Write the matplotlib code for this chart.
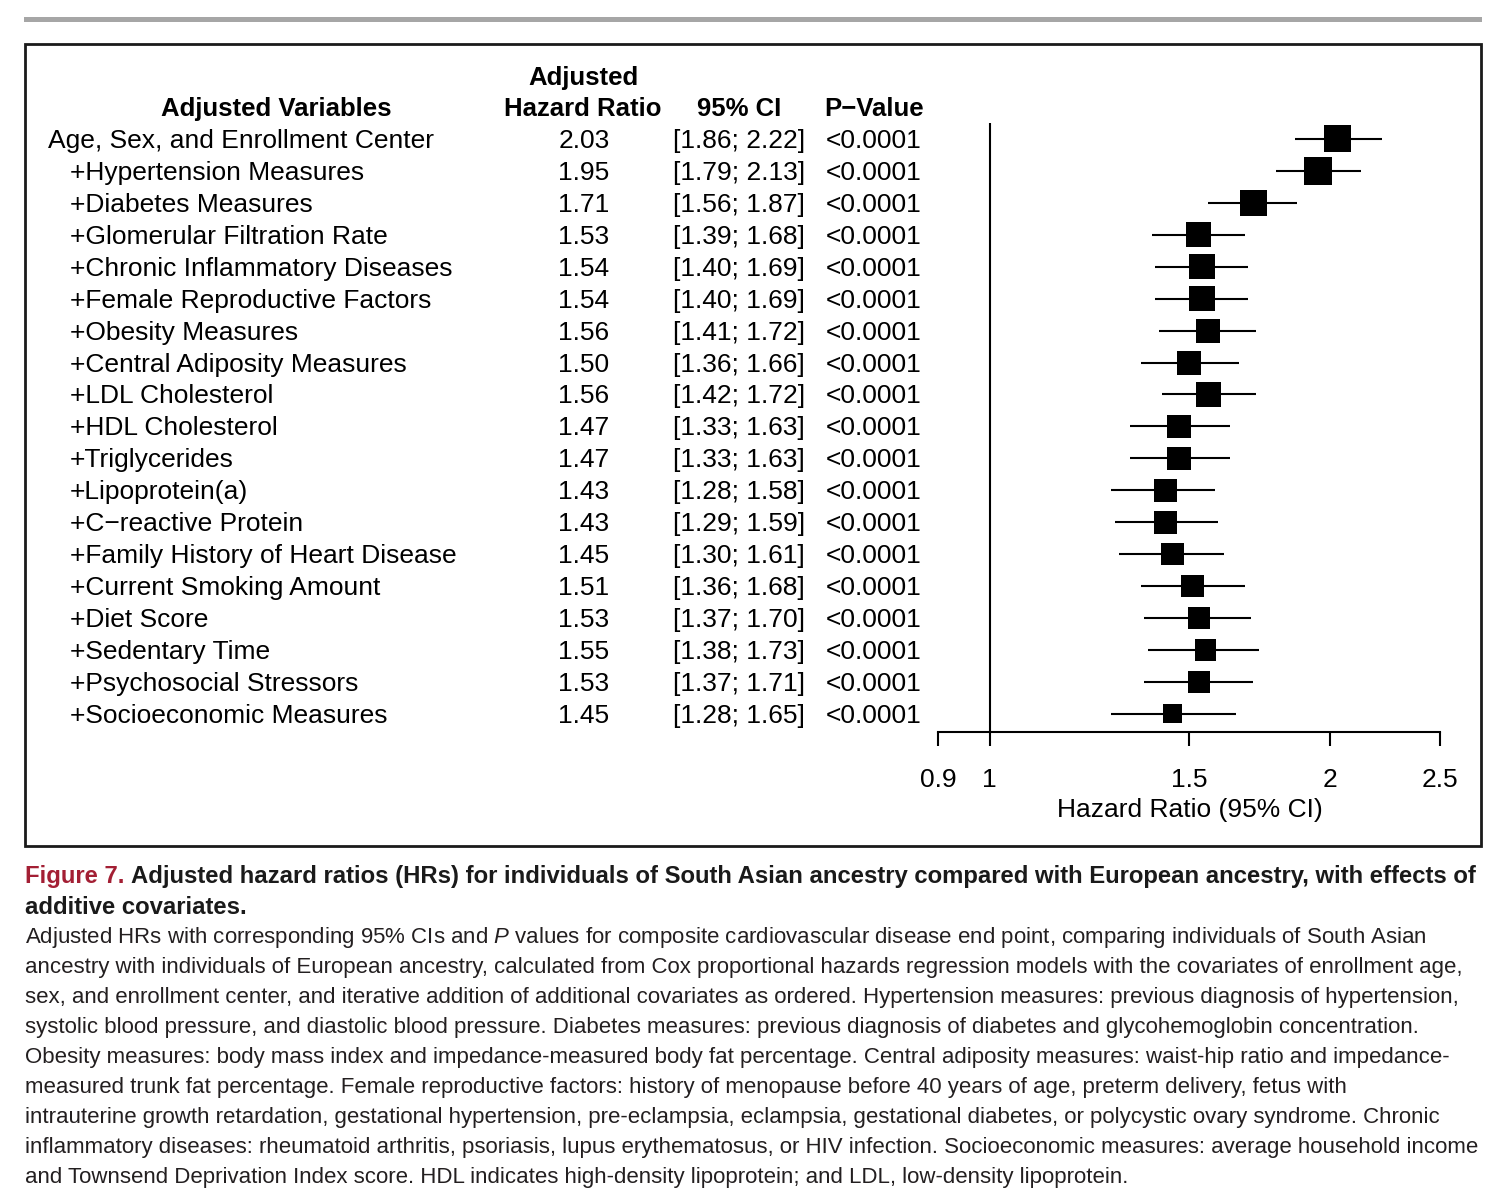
import numpy as np
import matplotlib
matplotlib.use('Agg')
import matplotlib.pyplot as plt
from matplotlib import font_manager
from matplotlib.patches import Rectangle
from matplotlib.ticker import NullLocator
from matplotlib.transforms import blended_transform_factory, offset_copy


variables = ["Age, Sex, and Enrollment Center", "+Hypertension Measures", "+Diabetes Measures",
             "+Glomerular Filtration Rate", "+Chronic Inflammatory Diseases",
             "+Female Reproductive Factors", "+Obesity Measures", "+Central Adiposity Measures",
             "+LDL Cholesterol", "+HDL Cholesterol", "+Triglycerides", "+Lipoprotein(a)",
             "+C\u2212reactive Protein", "+Family History of Heart Disease",
             "+Current Smoking Amount", "+Diet Score", "+Sedentary Time",
             "+Psychosocial Stressors", "+Socioeconomic Measures"]
hr = [2.03, 1.95, 1.71, 1.53, 1.54, 1.54, 1.56, 1.50, 1.56, 1.47,
      1.47, 1.43, 1.43, 1.45, 1.51, 1.53, 1.55, 1.53, 1.45]
ci_low = [1.86, 1.79, 1.56, 1.39, 1.40, 1.40, 1.41, 1.36, 1.42, 1.33,
          1.33, 1.28, 1.29, 1.30, 1.36, 1.37, 1.38, 1.37, 1.28]
ci_high = [2.22, 2.13, 1.87, 1.68, 1.69, 1.69, 1.72, 1.66, 1.72, 1.63,
           1.63, 1.58, 1.59, 1.61, 1.68, 1.70, 1.73, 1.71, 1.65]
p_values = ["<0.0001"] * len(variables)
xticks = [0.9, 1, 1.5, 2, 2.5]
xtick_labels = ["0.9", "1", "1.5", "2", "2.5"]

caption_title = ["Adjusted hazard ratios (HRs) for individuals of South Asian ancestry compared with European ancestry, with effects of",
                 "additive covariates."]
caption_body = [
    "Adjusted HRs with corresponding 95% CIs and $P$ values for composite cardiovascular disease end point, comparing individuals of South Asian",
    "ancestry with individuals of European ancestry, calculated from Cox proportional hazards regression models with the covariates of enrollment age,",
    "sex, and enrollment center, and iterative addition of additional covariates as ordered. Hypertension measures: previous diagnosis of hypertension,",
    "systolic blood pressure, and diastolic blood pressure. Diabetes measures: previous diagnosis of diabetes and glycohemoglobin concentration.",
    "Obesity measures: body mass index and impedance-measured body fat percentage. Central adiposity measures: waist-hip ratio and impedance-",
    "measured trunk fat percentage. Female reproductive factors: history of menopause before 40 years of age, preterm delivery, fetus with",
    "intrauterine growth retardation, gestational hypertension, pre-eclampsia, eclampsia, gestational diabetes, or polycystic ovary syndrome. Chronic",
    "inflammatory diseases: rheumatoid arthritis, psoriasis, lupus erythematosus, or HIV infection. Socioeconomic measures: average household income",
    "and Townsend Deprivation Index score. HDL indicates high-density lipoprotein; and LDL, low-density lipoprotein.",
]

W, H = 1512, 1204


def fx(x):
    return x / W


def fy(y):
    return 1 - y / H


names = {f.name for f in font_manager.fontManager.ttflist}
narrow = 'Liberation Sans Narrow' if 'Liberation Sans Narrow' in names else 'Liberation Sans'

plt.rcParams['font.family'] = ['Liberation Sans', 'DejaVu Sans']
plt.rcParams['mathtext.fontset'] = 'custom'
plt.rcParams['mathtext.it'] = narrow + ':italic'
plt.rcParams['mathtext.rm'] = narrow

fig = plt.figure(figsize=(W / 100, H / 100), dpi=100)

# grey rule at the top and the frame round the chart
fig.patches.append(Rectangle((fx(24), fy(22)), (1482 - 24) / W, 5 / H, transform=fig.transFigure,
                             facecolor='#a6a6a6', lw=0))
fig.patches.append(Rectangle((fx(25), fy(846)), (1481 - 25) / W, (846 - 44) / H, transform=fig.transFigure,
                             fill=False, edgecolor='#1a1a1a', lw=2))

ax = fig.add_axes([fx(938), fy(732), (1440 - 938) / W, (732 - 123) / H])
ax.set_xscale('log')
ax.set_xlim(0.9, 2.5)
rows = np.arange(len(variables))
ax.set_ylim(18.57, -0.5)

# square side follows 1/se, as in meta's forest plot
se = (np.log(ci_high) - np.log(ci_low)) / (2 * 1.96)
side_pt = 1.22 / se * 0.72
ax.hlines(rows, ci_low, ci_high, color='black', lw=1.5, zorder=2)
ax.scatter(hr, rows, s=side_pt ** 2, marker='s', color='black', linewidths=0, zorder=3)
ax.axvline(1, color='black', lw=1.5, zorder=1)

for s in ['top', 'right', 'left']:
    ax.spines[s].set_visible(False)
ax.spines['bottom'].set_linewidth(1.5)
ax.set_yticks([])
ax.set_xticks(xticks, labels=xtick_labels)
ax.xaxis.set_minor_locator(NullLocator())
ax.tick_params(axis='x', length=10, width=1.5, pad=16, labelsize=19)
ax.patch.set_visible(False)
fig.text(fx(1190), fy(810), "Hazard Ratio (95% CI)", ha='center', va='center', fontsize=19)

# table columns
trans = offset_copy(blended_transform_factory(fig.transFigure, ax.transData), fig=fig, y=-2, units='dots')
for i in rows:
    name = variables[i]
    x0 = fx(70) if name.startswith('+') else fx(48)
    fig.text(x0, i, name, transform=trans, ha='left', va='center', fontsize=19)
    fig.text(fx(584), i, f"{hr[i]:.2f}", transform=trans, ha='center', va='center', fontsize=19)
    fig.text(fx(739), i, f"[{ci_low[i]:.2f}; {ci_high[i]:.2f}]", transform=trans,
             ha='center', va='center', fontsize=19)
    fig.text(fx(826), i, p_values[i], transform=trans, ha='left', va='center', fontsize=19)

hdr = dict(ha='center', va='center', fontsize=18.5, fontweight='bold')
fig.text(fx(276), fy(109), "Adjusted Variables", **hdr)
fig.text(fx(583), fy(78), "Adjusted", **hdr)
fig.text(fx(583), fy(109), "Hazard Ratio", **hdr)
fig.text(fx(739), fy(109), "95% CI", **hdr)
fig.text(fx(874), fy(109), "P\u2212Value", **hdr)

# caption
cap_font = [narrow, 'DejaVu Sans']
fig_label = fig.text(fx(25), fy(877), "Figure 7.", ha='left', va='center', fontsize=18,
                     fontweight='bold', color='#a31f34', family=cap_font)
title_texts = [fig_label]
first = plt.annotate(caption_title[0], xy=(1, 0), xycoords=fig_label, xytext=(5, 0),
                     textcoords='offset points', ha='left', va='bottom', fontsize=18,
                     fontweight='bold', color='#1a1a1a', family=cap_font, annotation_clip=False)
title_texts.append(first)
title_texts.append(fig.text(fx(25), fy(907), caption_title[1], ha='left', va='center', fontsize=18,
                            fontweight='bold', color='#1a1a1a', family=cap_font))

body_texts = []
for k, line in enumerate(caption_body):
    body_texts.append(fig.text(fx(25), fy(938 + 30 * k), line, ha='left', va='center', fontsize=18,
                               color='#231f20', family=cap_font))

# fit caption widths to the reference
renderer = fig.canvas.get_renderer()
w_title = fig_label.get_window_extent(renderer).width + first.get_window_extent(renderer).width + 7
scale = (1481 - 25) / w_title
for tt in title_texts:
    tt.set_fontsize(18 * scale)
w_body = body_texts[7].get_window_extent(renderer).width
scale = (1481 - 25) / w_body
for tt in body_texts:
    tt.set_fontsize(18 * scale)

fig.savefig('out.png', dpi=100, facecolor='white')
